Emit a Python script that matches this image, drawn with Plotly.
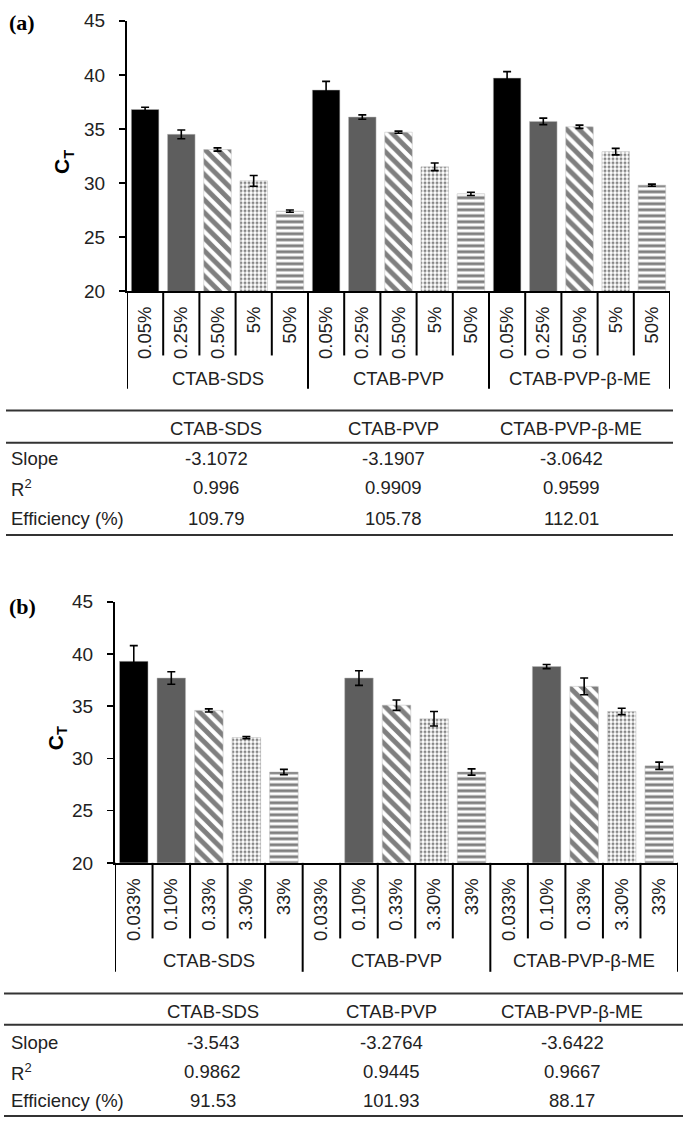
import plotly.graph_objects as go

W, H = 685, 1131

# ---------------- data ----------------
methods = ["CTAB-SDS", "CTAB-PVP", "CTAB-PVP-β-ME"]

conc_a = ["0.05%", "0.25%", "0.50%", "5%", "50%"]
ct_a_sds = [36.8, 34.5, 33.1, 30.2, 27.4]
ct_a_pvp = [38.6, 36.1, 34.7, 31.5, 29.0]
ct_a_bme = [39.7, 35.7, 35.2, 32.9, 29.8]
err_a_sds = [0.2, 0.4, 0.15, 0.5, 0.1]
err_a_pvp = [0.8, 0.2, 0.1, 0.35, 0.15]
err_a_bme = [0.6, 0.3, 0.15, 0.3, 0.1]

conc_b = ["0.033%", "0.10%", "0.33%", "3.30%", "33%"]
ct_b_sds = [39.3, 37.7, 34.6, 32.0, 28.7]
ct_b_pvp = [None, 37.7, 35.1, 33.8, 28.7]
ct_b_bme = [None, 38.8, 36.9, 34.5, 29.3]
err_b_sds = [1.5, 0.6, 0.15, 0.1, 0.25]
err_b_pvp = [None, 0.7, 0.5, 0.7, 0.3]
err_b_bme = [None, 0.2, 0.8, 0.3, 0.35]

row_labels = ["Slope", "R<sup>2</sup>", "Efficiency (%)"]
slope_a = ["-3.1072", "-3.1907", "-3.0642"]
r2_a = ["0.996", "0.9909", "0.9599"]
eff_a = ["109.79", "105.78", "112.01"]
slope_b = ["-3.543", "-3.2764", "-3.6422"]
r2_b = ["0.9862", "0.9445", "0.9667"]
eff_b = ["91.53", "101.93", "88.17"]

# ---------------- helpers ----------------
def px(x):
    return x / W


def py(y):
    return 1 - y / H


FONT = "Liberation Sans, Arial, sans-serif"
TXT = "#222222"

level_styles = [
    dict(color="black", pattern=dict(shape="")),
    dict(color="#5e5e5e", pattern=dict(shape="")),
    dict(color="white", pattern=dict(shape="\\", fgcolor="black", bgcolor="white", size=9, solidity=0.55)),
    dict(color="white", pattern=dict(shape=".", fgcolor="#111", bgcolor="white", size=4, solidity=0.45)),
    dict(color="white", pattern=dict(shape="-", fgcolor="black", bgcolor="white", size=6, solidity=0.5)),
]

fig = go.Figure()

panels = [
    dict(xa="x", ya="y", conc=conc_a,
         ct=[ct_a_sds, ct_a_pvp, ct_a_bme], err=[err_a_sds, err_a_pvp, err_a_bme],
         xdom=(127, 670), ytop=11, ybot=286.5, cat_sep=352, grp_sep=386, grp_lab=375,
         label="(a)", label_y=13, title_x=63,
         tbl=dict(top=408, head=426, hline=441, rows=[457, 487, 518], bottom=535,
                  x0=6, x1=673, cols=[216, 393, 571]),
         vals=[slope_a, r2_a, eff_a]),
    dict(xa="x2", ya="y2", conc=conc_b,
         ct=[ct_b_sds, ct_b_pvp, ct_b_bme], err=[err_b_sds, err_b_pvp, err_b_bme],
         xdom=(115, 678), ytop=603, ybot=869, cat_sep=946, grp_sep=980, grp_lab=968,
         label="(b)", label_y=608, title_x=57,
         tbl=dict(top=1002, head=1020, hline=1034, rows=[1052, 1082, 1111], bottom=1127,
                  x0=4, x1=683, cols=[213, 391, 572]),
         vals=[slope_b, r2_b, eff_b]),
]

shapes = []
annotations = []
layout_axes = {}

for p_i, p in enumerate(panels):
    n = len(p["conc"])
    for lvl in range(n):
        xs = [g * n + lvl for g in range(len(methods))]
        ys = [p["ct"][g][lvl] for g in range(len(methods))]
        es = [p["err"][g][lvl] for g in range(len(methods))]
        st = level_styles[lvl]
        fig.add_trace(go.Bar(
            x=xs, y=ys, xaxis=p["xa"], yaxis=p["ya"], width=0.76,
            marker=dict(color=st["color"], pattern=st["pattern"],
                        line=dict(color="#bbbbbb", width=0.5)),
            error_y=dict(type="data", array=es, color="black", thickness=1.6, width=4),
            showlegend=False, hoverinfo="skip",
        ))

    total = n * len(methods)
    suffix = "" if p_i == 0 else str(p_i + 1)
    layout_axes["xaxis" + suffix] = dict(
        domain=[px(p["xdom"][0]), px(p["xdom"][1])], range=[-0.5, total - 0.5],
        anchor=p["ya"], tickvals=list(range(total)), ticktext=p["conc"] * len(methods),
        tickangle=-90, ticks="", showline=True, linecolor="black", linewidth=2,
        showgrid=False, zeroline=False, fixedrange=True, ticklabelstandoff=6,
        tickfont=dict(family=FONT, size=18.5, color=TXT),
    )
    layout_axes["yaxis" + suffix] = dict(
        domain=[py(p["ybot"]), py(p["ytop"])], range=[20, 45], dtick=5,
        anchor=p["xa"], ticks="outside", ticklen=6, tickwidth=1.6, tickcolor="black",
        showline=True, linecolor="black", linewidth=2, showgrid=False, zeroline=False,
        fixedrange=True, ticklabelstandoff=10, tickfont=dict(family=FONT, size=19, color=TXT),
    )

    # category / group separators below axis
    for k in range(total + 1):
        is_grp = (k % n == 0)
        shapes.append(dict(type="line", xref=p["xa"], yref="paper",
                           x0=k - 0.5, x1=k - 0.5, y0=py(p["ybot"]),
                           y1=py(p["grp_sep"] if is_grp else p["cat_sep"]),
                           line=dict(color="black", width=2)))
    for g, m in enumerate(methods):
        annotations.append(dict(text=m, xref=p["xa"], yref="paper", x=g * n + (n - 1) / 2,
                                y=py(p["grp_lab"]), showarrow=False, xanchor="center",
                                yanchor="middle", font=dict(family=FONT, size=18.5, color=TXT)))

    # panel label and y title
    annotations.append(dict(text="<b>" + p["label"] + "</b>", xref="paper", yref="paper",
                            x=px(7), y=py(p["label_y"]), xanchor="left", yanchor="middle",
                            showarrow=False,
                            font=dict(family="Liberation Serif, Times New Roman, serif", size=22, color="black")))
    annotations.append(dict(text="<b>C<sub>T</sub></b>", xref="paper", yref="paper",
                            x=px(p["title_x"]), y=py((p["ytop"] + p["ybot"]) / 2 + 6),
                            xanchor="center", yanchor="middle", textangle=-90, showarrow=False,
                            font=dict(family=FONT, size=21, color="black")))

    # table
    t = p["tbl"]
    for yy in (t["top"], t["hline"], t["bottom"]):
        shapes.append(dict(type="line", xref="paper", yref="paper", x0=px(t["x0"]), x1=px(t["x1"]),
                           y0=py(yy), y1=py(yy), line=dict(color="#333333", width=2)))
    for c, m in enumerate(methods):
        annotations.append(dict(text=m, xref="paper", yref="paper", x=px(t["cols"][c]),
                                y=py(t["head"]), xanchor="center", yanchor="middle",
                                showarrow=False, font=dict(family=FONT, size=18.5, color=TXT)))
    for r, lab in enumerate(row_labels):
        annotations.append(dict(text=lab, xref="paper", yref="paper", x=px(9),
                                y=py(t["rows"][r]), xanchor="left", yanchor="middle",
                                showarrow=False, font=dict(family=FONT, size=18.5, color=TXT)))
        for c in range(len(methods)):
            annotations.append(dict(text=p["vals"][r][c], xref="paper", yref="paper",
                                    x=px(t["cols"][c]), y=py(t["rows"][r]), xanchor="center",
                                    yanchor="middle", showarrow=False,
                                    font=dict(family=FONT, size=18.5, color=TXT)))

fig.update_layout(
    width=W, height=H, autosize=False,
    margin=dict(l=0, r=0, t=0, b=0),
    paper_bgcolor="white", plot_bgcolor="white",
    barmode="overlay", shapes=shapes, annotations=annotations,
    **layout_axes,
)

fig.write_html(
    "out.html",
    config={"displayModeBar": False, "staticPlot": True},
    post_script="document.body.style.margin='0';document.body.style.padding='0';"
                "document.body.style.overflow='hidden';",
)
